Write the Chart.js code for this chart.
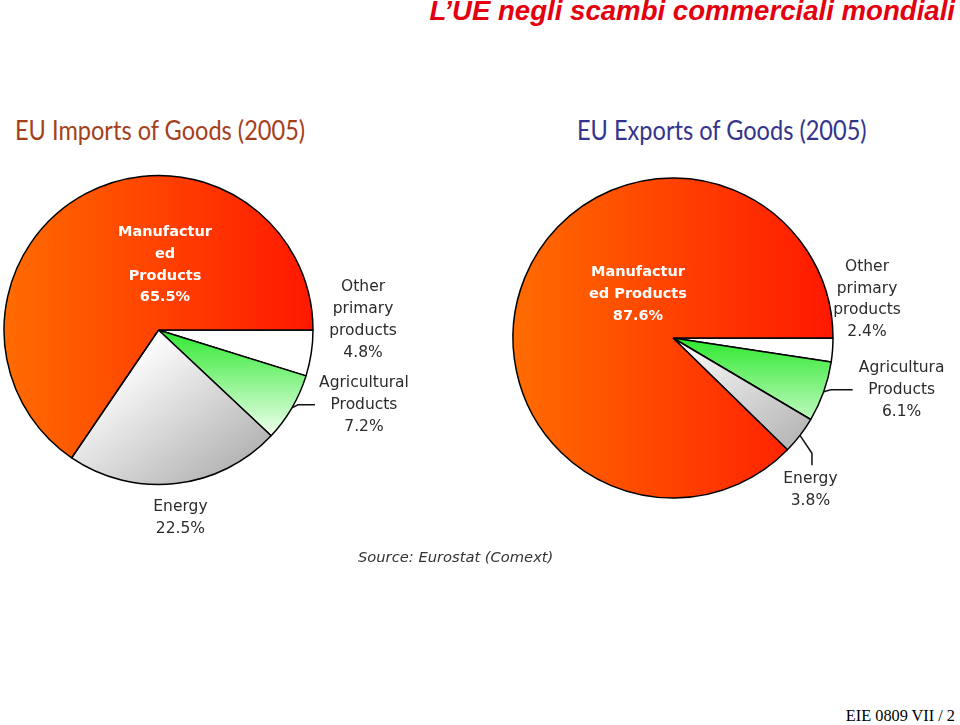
<!DOCTYPE html>
<html>
<head>
<meta charset="utf-8">
<script src="https://cdn.jsdelivr.net/npm/chart.js@4.4.0/dist/chart.umd.min.js"></script>
<style>
  body { margin: 0; width: 960px; height: 725px; background: #fff; position: relative; overflow: hidden; }
  #head { position: absolute; right: 5px; top: -5px; font: italic bold 27.6px "Liberation Sans", Arial, sans-serif; color: #e3000f; white-space: nowrap; }
  .sub { position: absolute; top: 113px; font: 27px Lato, sans-serif; white-space: nowrap; transform: scaleX(0.873); transform-origin: 0 0; }
  #subL { left: 15px; color: #a5401c; }
  #subR { left: 577px; color: #34348c; }
  #source { position: absolute; left: 358px; top: 548px; font: italic 14.7px "DejaVu Sans", sans-serif; color: #333; white-space: nowrap; }
  #foot { position: absolute; right: 5px; top: 706px; font: 16.3px "Liberation Serif", serif; color: #000; white-space: nowrap; }
  canvas { position: absolute; }
  #imp { left: 0; top: 160px; }
  #exp { left: 480px; top: 160px; }
</style>
</head>
<body>
<div id="head">L’UE negli scambi commerciali mondiali</div>
<div class="sub" id="subL">EU Imports of Goods (2005)</div>
<div class="sub" id="subR">EU Exports of Goods (2005)</div>
<canvas id="imp" width="480" height="400"></canvas>
<canvas id="exp" width="480" height="400"></canvas>
<div id="source">Source: Eurostat (Comext)</div>
<div id="foot">EIE 0809 VII / 2</div>

<script>
// categories in clockwise order starting at 3 o'clock
const categories = ["Other primary products", "Agricultural Products", "Energy", "Manufactured Products"];
const importShares = [4.8, 7.2, 22.5, 65.5];
const exportShares = [2.4, 6.1, 3.8, 87.6];

// label text as broken in the original picture
const importLabelLines = [["Other", "primary", "products"], ["Agricultural", "Products"], ["Energy"], ["Manufactur", "ed", "Products"]];
const exportLabelLines = [["Other", "primary", "products"], ["Agricultura", "Products"], ["Energy"], ["Manufactur", "ed Products"]];

const BORDER = 1.5;

// pie gradients, built from the chart area so they follow the scale
function sliceFill(c) {
  const chart = c.chart;
  const a = chart.chartArea;
  const fallback = ["#ffffff", "#88ee88", "#dddddd", "#ff4000"][c.dataIndex];
  if (!a) return fallback;
  const ctx = chart.ctx;
  const cx = (a.left + a.right) / 2, cy = (a.top + a.bottom) / 2;
  const r = Math.min(a.width, a.height) / 2;
  let g;
  switch (c.dataIndex) {
    case 0:
      return "#ffffff";
    case 1:
      g = ctx.createLinearGradient(cx, cy, cx, cy + 0.65 * r);
      g.addColorStop(0, "#2ee82e");
      g.addColorStop(1, "#e8ffe8");
      return g;
    case 2:
      g = ctx.createLinearGradient(cx, cy, cx + 0.6 * r, cy + 0.8 * r);
      g.addColorStop(0, "#ffffff");
      g.addColorStop(1, "#b5b5b5");
      return g;
    default:
      g = ctx.createLinearGradient(cx - r, cy, cx + r, cy);
      g.addColorStop(0, "#ff6c00");
      g.addColorStop(1, "#ff1800");
      return g;
  }
}

// labels around/inside the pie, placed relative to the arc centre and radius
const pieText = {
  id: "pieText",
  afterDatasetsDraw(chart, args, opts) {
    const ctx = chart.ctx;
    const meta = chart.getDatasetMeta(0);
    const values = chart.data.datasets[0].data;
    meta.data.forEach((arc, i) => {
      const p = arc.getProps(["x", "y", "outerRadius", "startAngle", "endAngle"], true);
      const mid = (p.startAngle + p.endAngle) / 2;
      const r = p.outerRadius;
      const lines = opts.lines[i].concat(values[i].toFixed(1) + "%");
      const tx = p.x + opts.pos[i][0] * r;
      const ty = p.y + opts.pos[i][1] * r;
      ctx.save();
      ctx.textAlign = "center";
      ctx.textBaseline = "middle";
      ctx.fillStyle = i === 3 ? "#ffffff" : "#2b2b2b";
      ctx.font = i === 3 ? "bold 14.5px 'DejaVu Sans'" : "15.5px 'DejaVu Sans'";
      lines.forEach((s, k) => {
        ctx.fillText(s, tx, ty + (k - (lines.length - 1) / 2) * opts.lineHeight);
      });
      const lead = opts.leaders[i];
      if (lead) {
        const sx = p.x + Math.cos(mid) * r, sy = p.y + Math.sin(mid) * r;
        ctx.strokeStyle = "#111";
        ctx.lineWidth = 1.5;
        ctx.beginPath();
        ctx.moveTo(sx, sy);
        ctx.lineTo(sx + lead[0], sy + lead[1]);
        ctx.lineTo(sx + lead[0] + lead[2], sy + lead[1] + lead[3]);
        ctx.stroke();
      }
      ctx.restore();
    });
  }
};

// padding so that the pie sits at (cx, cy) with radius r inside a w x h canvas
function padFor(cx, cy, r, w, h) {
  const half = r + BORDER / 2;
  return { left: cx - half, right: w - cx - half, top: cy - half, bottom: h - cy - half };
}

function makePie(id, values, lines, pos, leaders, pad) {
  return new Chart(document.getElementById(id), {
    type: "pie",
    data: {
      labels: categories,
      datasets: [{
        data: values,
        backgroundColor: sliceFill,
        borderColor: "#000000",
        borderWidth: BORDER,
        hoverOffset: 0
      }]
    },
    options: {
      responsive: false,
      animation: false,
      rotation: 90,
      layout: { padding: pad },
      events: [],
      plugins: {
        legend: { display: false },
        tooltip: { enabled: false },
        pieText: { lines: lines, pos: pos, leaders: leaders, lineHeight: 21.8 }
      }
    },
    plugins: [pieText]
  });
}

makePie("imp", importShares, importLabelLines,
  [[1.324, -0.065], [1.330, 0.485], [0.142, 1.217], [0.042, -0.421]],
  [null, [6, -3, 17, 0], null, null],
  padFor(158.5, 170, 154.5, 480, 400));

makePie("exp", exportShares, exportLabelLines,
  [[1.2125, -0.241], [1.429, 0.325], [0.859, 0.952], [-0.219, -0.273]],
  [null, [7, -2, 22, 0], [12, 18, 0, 12], null],
  padFor(193, 178, 160, 480, 400));
</script>
</body>
</html>
